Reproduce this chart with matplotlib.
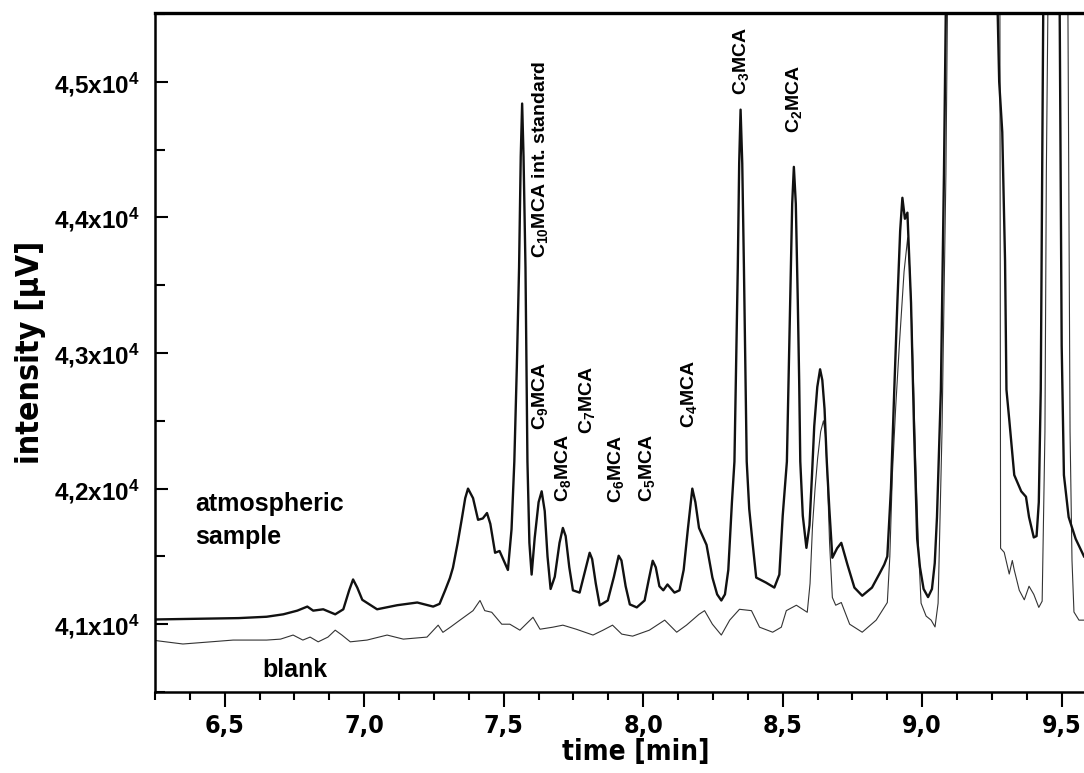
import numpy as np
import matplotlib
matplotlib.use("Agg")
import matplotlib.pyplot as plt
from matplotlib.ticker import MultipleLocator

plt.rcParams['font.family'] = ['Liberation Sans', 'DejaVu Sans']
plt.rcParams['mathtext.fontset'] = 'custom'
plt.rcParams['mathtext.rm'] = 'Liberation Sans:bold'
plt.rcParams['mathtext.bf'] = 'Liberation Sans:bold'
plt.rcParams['mathtext.it'] = 'Liberation Sans:bold'
plt.rcParams['mathtext.default'] = 'bf'

# atmospheric sample trace (time [min], intensity [uV])
sample_t = [6.25, 6.40, 6.55, 6.65, 6.71, 6.76, 6.796, 6.817, 6.853, 6.896, 6.925, 6.946,
            6.96, 6.975, 6.993, 7.046, 7.118, 7.19, 7.247, 7.27, 7.29, 7.307, 7.318, 7.335,
            7.35, 7.362, 7.372, 7.39, 7.408, 7.425, 7.44, 7.452, 7.469, 7.485, 7.50, 7.515,
            7.528, 7.538, 7.547, 7.555, 7.561, 7.566, 7.571, 7.578, 7.585, 7.592, 7.60, 7.611,
            7.625, 7.636, 7.647, 7.657, 7.668, 7.683, 7.70, 7.712, 7.722, 7.735, 7.748, 7.772,
            7.79, 7.808, 7.817, 7.83, 7.844, 7.873, 7.895, 7.912, 7.922, 7.937, 7.952, 7.977,
            8.005, 8.02, 8.034, 8.045, 8.058, 8.072, 8.087, 8.112, 8.13, 8.145, 8.160, 8.176,
            8.187, 8.20, 8.227, 8.248, 8.265, 8.28, 8.293, 8.305, 8.318, 8.327, 8.333, 8.339,
            8.344, 8.349, 8.355, 8.361, 8.366, 8.371, 8.38, 8.392, 8.405, 8.44, 8.47, 8.488,
            8.50, 8.515, 8.521, 8.527, 8.534, 8.54, 8.547, 8.554, 8.559, 8.563, 8.572, 8.585,
            8.596, 8.605, 8.613, 8.624, 8.634, 8.642, 8.65, 8.658, 8.667, 8.678, 8.695, 8.71,
            8.732, 8.757, 8.785, 8.82, 8.847, 8.864, 8.875, 8.888, 8.90, 8.911, 8.921, 8.929,
            8.938, 8.947, 8.96, 8.971, 8.982, 8.992, 9.005, 9.021, 9.035, 9.045, 9.053, 9.067,
            9.078, 9.09, 9.26, 9.276, 9.287, 9.297, 9.302, 9.312, 9.33, 9.355, 9.372, 9.383,
            9.40, 9.41, 9.418, 9.425, 9.43, 9.437, 9.49, 9.50, 9.508, 9.525, 9.55, 9.58]
sample_i = [41035, 41040, 41045, 41055, 41073, 41100, 41130, 41100, 41110, 41073, 41110, 41250,
            41330, 41270, 41180, 41110, 41140, 41160, 41130, 41150, 41250, 41340, 41417, 41600,
            41780, 41930, 42000, 41930, 41770, 41780, 41820, 41740, 41527, 41540, 41470, 41400,
            41700, 42200, 42900, 43630, 44450, 44840, 44450, 43630, 42200, 41600, 41366, 41636,
            41900, 41980, 41834, 41500, 41260, 41350, 41600, 41710, 41650, 41420, 41250, 41233,
            41380, 41527, 41480, 41300, 41139, 41175, 41350, 41505, 41470, 41280, 41146, 41124,
            41175, 41330, 41468, 41420, 41280, 41250, 41293, 41233, 41250, 41400, 41700, 42000,
            41900, 41710, 41585, 41344, 41220, 41175, 41220, 41400, 41900, 42200, 42900, 43630,
            44400, 44795, 44400, 43630, 42900, 42200, 41850, 41600, 41344, 41307, 41270, 41366,
            41800, 42200, 42800, 43390, 44100, 44373, 44100, 43390, 42800, 42200, 41800, 41563,
            41730, 42100, 42460, 42750, 42880, 42800, 42587, 42200, 41855, 41490, 41560, 41600,
            41440, 41270, 41210, 41270, 41373, 41440, 41500, 42000, 42733, 43370, 43900, 44145,
            43990, 44035, 43370, 42420, 41630, 41420, 41260, 41200, 41260, 41450, 41790, 42730,
            44320, 46500, 46500, 45000, 44630, 43680, 42730, 42510, 42100, 41980, 41940, 41790,
            41640, 41650, 41900, 42730, 44320, 46500, 46500, 43055, 42100, 41790, 41630, 41500]

# blank trace
blank_t = [6.25, 6.35, 6.45, 6.53, 6.65, 6.70, 6.745, 6.78, 6.806, 6.835, 6.87, 6.896,
           6.92, 6.95, 7.01, 7.082, 7.14, 7.225, 7.265, 7.282, 7.31, 7.343, 7.39, 7.415,
           7.432, 7.457, 7.493, 7.522, 7.558, 7.605, 7.63, 7.676, 7.712, 7.76, 7.82, 7.856,
           7.89, 7.923, 7.962, 8.022, 8.077, 8.12, 8.155, 8.20, 8.22, 8.248, 8.28, 8.31,
           8.345, 8.388, 8.417, 8.464, 8.495, 8.513, 8.549, 8.588, 8.598, 8.607, 8.616, 8.625,
           8.636, 8.646, 8.653, 8.66, 8.668, 8.678, 8.69, 8.71, 8.74, 8.785, 8.835, 8.875,
           8.884, 8.893, 8.905, 8.918, 8.935, 8.948, 8.956, 8.965, 8.978, 8.987, 8.996, 9.014,
           9.032, 9.046, 9.057, 9.071, 9.085, 9.095, 9.278, 9.281, 9.294, 9.312, 9.323, 9.33,
           9.348, 9.366, 9.383, 9.40, 9.418, 9.43, 9.44, 9.445, 9.455, 9.52, 9.53, 9.537,
           9.544, 9.562, 9.58]
blank_i = [40880, 40854, 40870, 40883, 40883, 40890, 40920, 40883, 40905, 40870, 40905, 40956,
           40920, 40870, 40883, 40920, 40890, 40905, 40993, 40940, 40980, 41030, 41100, 41175,
           41100, 41088, 41000, 41000, 40956, 41051, 40963, 40978, 40993, 40963, 40920, 40956,
           40993, 40927, 40912, 40956, 41030, 40941, 40993, 41073, 41100, 41000, 40920, 41030,
           41110, 41100, 40978, 40941, 40978, 41100, 41140, 41088, 41300, 41730, 42000, 42220,
           42420, 42500, 42400, 42097, 41600, 41197, 41140, 41160, 41000, 40941, 41030, 41160,
           41500, 42100, 42600, 43055, 43600, 43850, 43600, 43055, 42100, 41550, 41155, 41060,
           41030, 40980, 41155, 42420, 44320, 46500, 46500, 41560, 41530, 41370, 41470, 41400,
           41250, 41180, 41280, 41220, 41124, 41170, 42420, 44320, 46500, 46500, 42420, 41470,
           41090, 41030, 41030]

x_ticks = [6.5, 7.0, 7.5, 8.0, 8.5, 9.0, 9.5]
x_ticklabels = ['6,5', '7,0', '7,5', '8,0', '8,5', '9,0', '9,5']
y_ticks = [41000, 42000, 43000, 44000, 45000]
y_ticklabels = ['4,1x10$^4$', '4,2x10$^4$', '4,3x10$^4$', '4,4x10$^4$', '4,5x10$^4$']

# peak labels: (text, time, intensity at the lower end of the rotated text)
peak_labels = [
    ('C$_{10}$MCA int. standard', 7.63, 43700),
    ('C$_9$MCA', 7.63, 42433),
    ('C$_8$MCA', 7.712, 41900),
    ('C$_7$MCA', 7.80, 42400),
    ('C$_6$MCA', 7.903, 41895),
    ('C$_5$MCA', 8.014, 41900),
    ('C$_4$MCA', 8.165, 42448),
    ('C$_3$MCA', 8.351, 44902),
    ('C$_2$MCA', 8.54, 44622),
]

cond = dict(family='DejaVu Sans', fontstretch='condensed', fontweight='bold')

fig = plt.figure(figsize=(10.84, 7.73), dpi=100)
ax = fig.add_axes([155 / 1084, 1 - 692 / 773, (1084 - 155) / 1084, (692 - 12.7) / 773])

ax.plot(blank_t, blank_i, color='#333333', lw=0.8)
ax.plot(sample_t, sample_i, color='#111111', lw=1.7)

ax.set_xlim(6.25, 9.58)
ax.set_ylim(40500, 45510)

ax.spines['right'].set_visible(False)
ax.spines['left'].set_linewidth(1.8)
ax.spines['bottom'].set_linewidth(1.8)
ax.spines['top'].set_linewidth(2.4)

ax.set_xticks(x_ticks)
ax.set_xticklabels(x_ticklabels, fontsize=18, **cond)
ax.xaxis.set_minor_locator(MultipleLocator(0.125))
ax.tick_params(axis='x', which='major', direction='out', length=11, width=1.5, pad=5)
ax.tick_params(axis='x', which='minor', direction='out', length=5.5, width=1.5)

ax.set_yticks(y_ticks)
ax.set_yticklabels(y_ticklabels, fontweight='bold', fontsize=17.5)
ax.yaxis.set_minor_locator(MultipleLocator(500))
ax.tick_params(axis='y', which='major', direction='in', length=9, width=1.5, pad=11)
ax.tick_params(axis='y', which='minor', direction='in', length=7, width=1.5)

ax.set_xlabel('time [min]', fontsize=20, **cond)
ax.xaxis.set_label_coords(0.517, -0.068)
ax.set_ylabel('intensity [µV]', fontsize=23, labelpad=6, **cond)

for txt, t, i in peak_labels:
    ax.text(t, i, txt, rotation=90, ha='center', va='bottom', fontsize=14,
            fontweight='bold', clip_on=False)

ax.text(6.395, 41763, 'atmospheric\nsample', ha='left', va='center', fontsize=18,
        fontweight='bold', linespacing=1.45)
ax.text(6.635, 40665, 'blank', ha='left', va='center', fontsize=18, fontweight='bold')

fig.savefig('out.png', dpi=100)
